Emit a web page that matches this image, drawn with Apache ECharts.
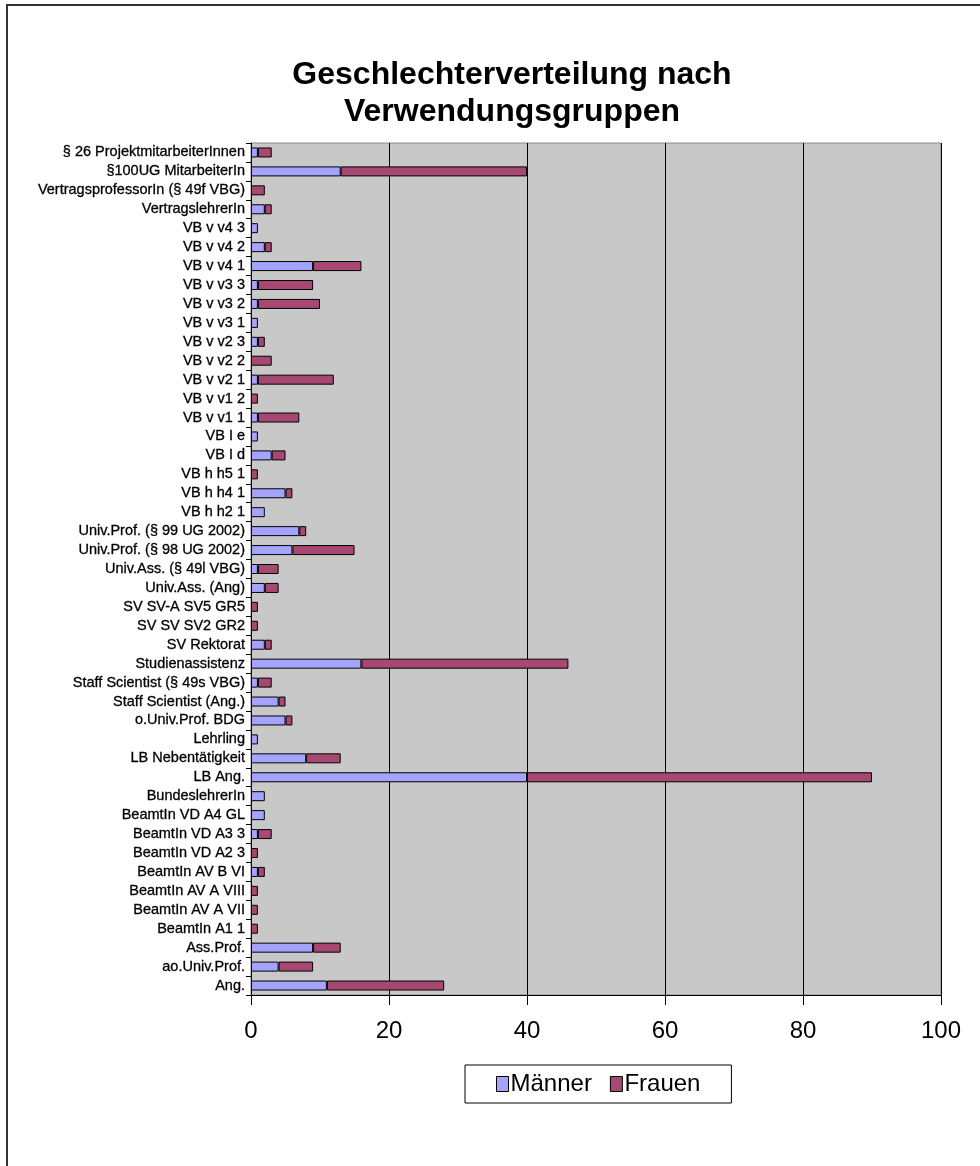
<!DOCTYPE html>
<html>
<head>
<meta charset="utf-8">
<script src="https://cdn.jsdelivr.net/npm/echarts@6/dist/echarts.min.js"></script>
<style>
  html, body { margin: 0; padding: 0; background: #fff; }
  #frame {
    position: absolute; left: 0; top: 0; width: 980px; height: 1166px;
    box-sizing: border-box;
  }
  #border {
    position: absolute; left: 6px; top: 4px; right: 0; bottom: 0;
    border-left: 2px solid #333; border-top: 2px solid #333;
  }
  #myChart { position: absolute; left: 0; top: 0; width: 980px; height: 1166px; }
</style>
</head>
<body>
<div id="frame">
  <div id="border"></div>
  <div id="myChart"></div>
</div>
<script>
// Kategorien von unten nach oben
const categories = [
  'Ang.', 'ao.Univ.Prof.', 'Ass.Prof.', 'BeamtIn A1 1', 'BeamtIn AV A VII',
  'BeamtIn AV A VIII', 'BeamtIn AV B VI', 'BeamtIn VD A2 3', 'BeamtIn VD A3 3',
  'BeamtIn VD A4 GL', 'BundeslehrerIn', 'LB Ang.', 'LB Nebentätigkeit', 'Lehrling',
  'o.Univ.Prof. BDG', 'Staff Scientist (Ang.)', 'Staff Scientist (§ 49s VBG)',
  'Studienassistenz', 'SV Rektorat', 'SV SV SV2 GR2', 'SV SV-A SV5 GR5',
  'Univ.Ass. (Ang)', 'Univ.Ass. (§ 49l VBG)', 'Univ.Prof. (§ 98 UG 2002)',
  'Univ.Prof. (§ 99 UG 2002)', 'VB h h2 1', 'VB h h4 1', 'VB h h5 1', 'VB I d',
  'VB I e', 'VB v v1 1', 'VB v v1 2', 'VB v v2 1', 'VB v v2 2', 'VB v v2 3',
  'VB v v3 1', 'VB v v3 2', 'VB v v3 3', 'VB v v4 1', 'VB v v4 2', 'VB v v4 3',
  'VertragslehrerIn', 'VertragsprofessorIn (§ 49f VBG)', '§100UG MitarbeiterIn',
  '§ 26 ProjektmitarbeiterInnen'
]
const maenner = [
  11, 4, 9, 0, 0,
  0, 1, 0, 1,
  2, 2, 40, 8, 1,
  5, 4, 1,
  16, 2, 0, 0,
  2, 1, 6,
  7, 2, 5, 0, 3,
  1, 1, 0, 1, 0, 1,
  1, 1, 1, 9, 2, 1,
  2, 0, 13,
  1
]
const frauen = [
  17, 5, 4, 1, 1,
  1, 1, 1, 2,
  0, 0, 50, 5, 0,
  1, 1, 2,
  30, 1, 1, 1,
  2, 3, 9,
  1, 0, 1, 1, 2,
  0, 6, 1, 11, 3, 1,
  0, 9, 8, 7, 1, 0,
  1, 2, 27,
  2
]
const xTicks = { min: 0, max: 100, interval: 20 }

const font = "'Liberation Sans', Arial, sans-serif"
const noZero = arr => arr.map(v => (v === 0 ? '-' : v))

const option = {
  animation: false,
  textStyle: { fontFamily: font },
  title: {
    text: 'Geschlechterverteilung nach\nVerwendungsgruppen',
    left: 507,
    top: 52,
    textAlign: 'center',
    textStyle: {
      fontFamily: font,
      fontSize: 32,
      fontWeight: 'bold',
      color: '#000',
      lineHeight: 37
    }
  },
  legend: {
    data: ['Männer', 'Frauen'],
    left: 465,
    top: 1065,
    padding: [7, 31, 7, 31],
    itemGap: 18,
    itemWidth: 12,
    itemHeight: 15,
    itemStyle: { borderColor: '#000', borderWidth: 1 },
    borderColor: '#000',
    borderWidth: 1,
    textStyle: { fontFamily: font, fontSize: 24, color: '#000', padding: [0, 0, 0, -3] },
    icon: 'rect'
  },
  grid: {
    left: 251,
    right: 39,
    top: 143,
    bottom: 171,
    show: true,
    backgroundColor: '#c8c8c8',
    borderColor: '#8a8a8a',
    borderWidth: 1
  },
  xAxis: {
    type: 'value',
    min: xTicks.min,
    max: xTicks.max,
    interval: xTicks.interval,
    axisLine: { show: true, lineStyle: { color: '#000', width: 1 } },
    axisTick: { show: true, length: 10, lineStyle: { color: '#000' } },
    axisLabel: { fontFamily: font, fontSize: 24, color: '#000', margin: 24 },
    splitLine: { show: true, lineStyle: { color: '#000', width: 1 } }
  },
  yAxis: {
    type: 'category',
    data: categories,
    axisLine: { show: true, lineStyle: { color: '#000', width: 1 } },
    axisTick: { show: true, length: 5, lineStyle: { color: '#000' } },
    axisLabel: {
      fontFamily: font,
      fontSize: 14.5,
      color: '#000',
      textBorderColor: '#000',
      textBorderWidth: 0.3,
      margin: 6,
      interval: 0
    },
    splitLine: { show: false }
  },
  series: [
    {
      name: 'Männer',
      type: 'bar',
      stack: 'gesamt',
      barWidth: 10,
      data: noZero(maenner),
      itemStyle: { color: '#a4a4ff', borderColor: '#000', borderWidth: 1 }
    },
    {
      name: 'Frauen',
      type: 'bar',
      stack: 'gesamt',
      barWidth: 10,
      data: noZero(frauen),
      itemStyle: { color: '#a64871', borderColor: '#000', borderWidth: 1 }
    }
  ]
}

const myChart = echarts.init(document.getElementById('myChart'))
myChart.setOption(option)
</script>
</body>
</html>
